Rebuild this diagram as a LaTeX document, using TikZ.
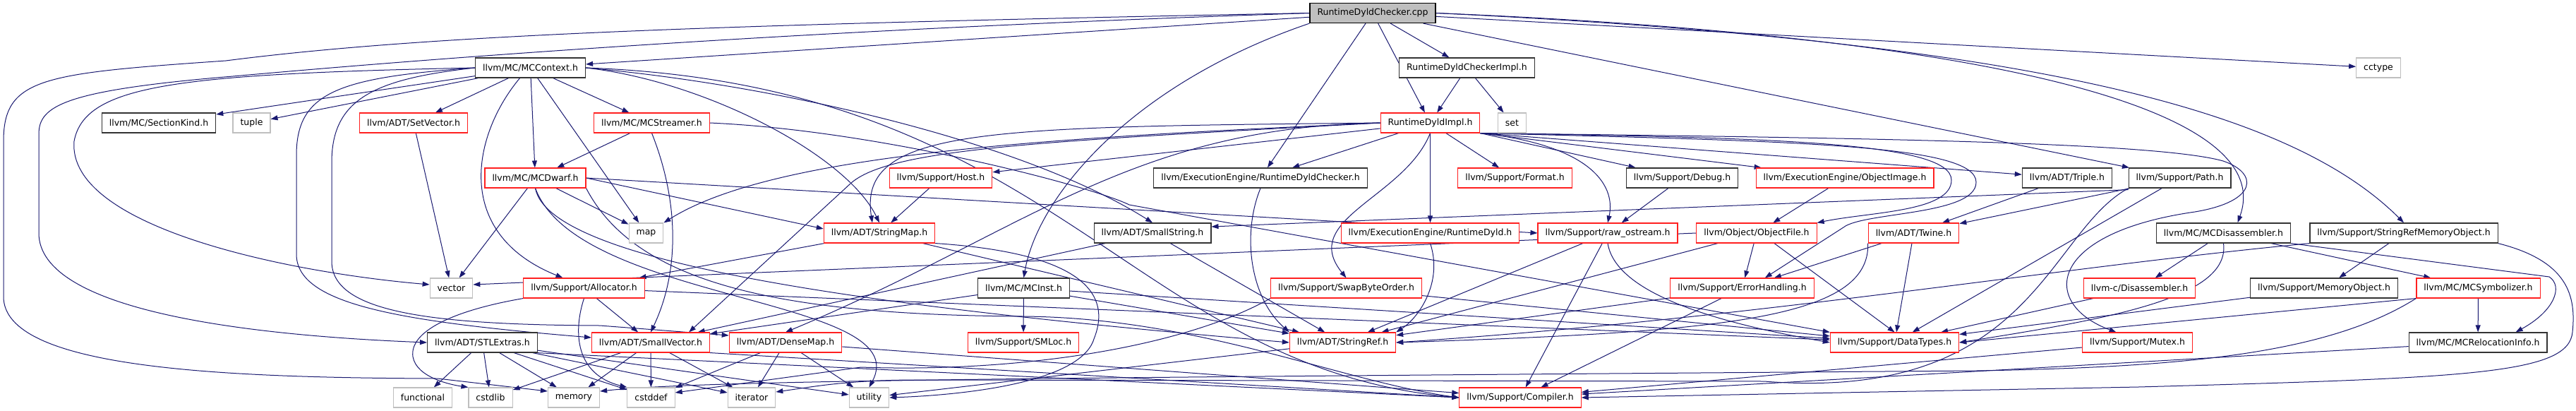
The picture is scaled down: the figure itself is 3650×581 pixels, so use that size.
\documentclass[tikz,border=0pt]{standalone}
\usepackage{fontspec}
\setmainfont{DejaVu Sans}
\usetikzlibrary{arrows.meta}
\pgfdeclarelayer{edges}
\pgfsetlayers{edges,main}
\definecolor{inclblue}{HTML}{191970}
\definecolor{truncred}{HTML}{FF2020}
\definecolor{sysgrey}{HTML}{BFBFBF}
\tikzset{
  % Include graph boxes
  hdrbox/.style   = { draw, fill=white, text=black, font=\fontsize{12.5}{15}\selectfont,
                      minimum height=28pt, inner xsep=10.5pt, inner ysep=2pt },
  rootfile/.style = { hdrbox, fill=sysgrey, draw=black, line width=1.3pt },
  inchdr/.style   = { hdrbox, draw=black!80, line width=1.3pt },
  trunchdr/.style = { hdrbox, draw=truncred, line width=1.1pt },
  syshdr/.style   = { hdrbox, draw=sysgrey, line width=1.1pt },
  % Include edges
  incl/.style     = { inclblue, line width=1pt, -{Triangle[length=10pt,width=7pt]} }
}

\begin{document}
\begin{tikzpicture}[x=1pt, y=-1pt]
  \useasboundingbox (0,0) rectangle (3650,581);

  % --- ranks 0-2 ---------------------------------------------------
  \node[rootfile] (cpp)      at (1945,18.5) {RuntimeDyldChecker.cpp};
  \node[inchdr]   (mcctx)    at (751.5,96)  {llvm/MC/MCContext.h};
  \node[inchdr]   (chkimpl)  at (2078.5,96) {RuntimeDyldCheckerImpl.h};
  \node[syshdr]   (cctype)   at (3370,96)   {cctype};
  \node[inchdr]   (seckind)  at (225,174)   {llvm/MC/SectionKind.h};
  \node[syshdr]   (tuple)    at (356.5,174) {tuple};
  \node[trunchdr] (setvec)   at (586,174)   {llvm/ADT/SetVector.h};
  \node[trunchdr] (mcstream) at (923.5,174) {llvm/MC/MCStreamer.h};
  \node[trunchdr] (dyldimpl) at (2026.5,174) {RuntimeDyldImpl.h};
  \node[syshdr]   (set)      at (2142.5,174) {set};

  % --- rank 3 ------------------------------------------------------
  \node[trunchdr] (mcdwarf)  at (758.5,252)  {llvm/MC/MCDwarf.h};
  \node[trunchdr] (host)     at (1333,252)   {llvm/Support/Host.h};
  \node[inchdr]   (dyldchk)  at (1786,252)   {llvm/ExecutionEngine/RuntimeDyldChecker.h};
  \node[trunchdr] (format)   at (2146.5,252) {llvm/Support/Format.h};
  \node[inchdr]   (debug)    at (2383.5,252) {llvm/Support/Debug.h};
  \node[trunchdr] (objimg)   at (2614,252)   {llvm/ExecutionEngine/ObjectImage.h};
  \node[inchdr]   (triple)   at (2929,252)   {llvm/ADT/Triple.h};
  \node[inchdr]   (path)     at (3088.5,252) {llvm/Support/Path.h};

  % --- rank 4 ------------------------------------------------------
  \node[syshdr]   (map)      at (915.5,330)  {map};
  \node[trunchdr] (strmap)   at (1246,330)   {llvm/ADT/StringMap.h};
  \node[inchdr]   (smallstr) at (1633,330)   {llvm/ADT/SmallString.h};
  \node[trunchdr] (dyld)     at (2026.5,330) {llvm/ExecutionEngine/RuntimeDyld.h};
  \node[trunchdr] (rawos)    at (2278,330)   {llvm/Support/raw\_ostream.h};
  \node[trunchdr] (objfile)  at (2489,330)   {llvm/Object/ObjectFile.h};
  \node[trunchdr] (twine)    at (2711.5,330) {llvm/ADT/Twine.h};
  \node[inchdr]   (mcdisasm) at (3150.5,330) {llvm/MC/MCDisassembler.h};
  \node[inchdr]   (srmo)     at (3406,330)   {llvm/Support/StringRefMemoryObject.h};

  % --- rank 5 ------------------------------------------------------
  \node[syshdr]   (vector)   at (639.5,408)  {vector};
  \node[trunchdr] (alloc)    at (827.5,408)  {llvm/Support/Allocator.h};
  \node[inchdr]   (mcinst)   at (1450.5,408) {llvm/MC/MCInst.h};
  \node[trunchdr] (swap)     at (1907.5,408) {llvm/Support/SwapByteOrder.h};
  \node[trunchdr] (errh)     at (2468.5,408) {llvm/Support/ErrorHandling.h};
  \node[trunchdr] (cdisasm)  at (3031.5,408) {llvm-c/Disassembler.h};
  \node[inchdr]   (memobj)   at (3293,408)   {llvm/Support/MemoryObject.h};
  \node[trunchdr] (symb)     at (3511.5,408) {llvm/MC/MCSymbolizer.h};

  % --- rank 6 ------------------------------------------------------
  \node[inchdr]   (stlext)   at (683.5,485)  {llvm/ADT/STLExtras.h};
  \node[trunchdr] (smallvec) at (922,485)    {llvm/ADT/SmallVector.h};
  \node[trunchdr] (densemap) at (1113,485)   {llvm/ADT/DenseMap.h};
  \node[trunchdr] (smloc)    at (1450,485)   {llvm/Support/SMLoc.h};
  \node[trunchdr] (strref)   at (1902.5,485) {llvm/ADT/StringRef.h};
  \node[trunchdr] (dtypes)   at (2684.5,485) {llvm/Support/DataTypes.h};
  \node[trunchdr] (mutex)    at (3028.5,485) {llvm/Support/Mutex.h};
  \node[inchdr]   (relinfo)  at (3511,485)   {llvm/MC/MCRelocationInfo.h};

  % --- rank 7 ------------------------------------------------------
  \node[syshdr]   (functional) at (599,563)   {functional};
  \node[syshdr]   (cstdlib)    at (695,563)   {cstdlib};
  \node[syshdr]   (memory)     at (813,563)   {memory};
  \node[syshdr]   (cstddef)    at (922.5,563) {cstddef};
  \node[syshdr]   (iterator)   at (1065,563)  {iterator};
  \node[syshdr]   (utility)    at (1231.5,563) {utility};
  \node[trunchdr] (compiler)   at (2154,563)  {llvm/Support/Compiler.h};

  \begin{pgfonlayer}{edges}
  % --- direct includes ---------------------------------------------
  \foreach \src/\dst in {cpp/mcctx, cpp/chkimpl, cpp/dyldimpl, cpp/dyldchk, cpp/cctype, cpp/path,
      chkimpl/dyldimpl, chkimpl/set,
      mcctx/seckind, mcctx/tuple, mcctx/setvec, mcctx/mcstream, mcctx/mcdwarf, mcctx/map,
      setvec/vector, mcstream/mcdwarf, mcdwarf/map, mcdwarf/vector,
      host/strmap, dyldimpl/dyldchk, dyldimpl/host, dyldimpl/format, dyldimpl/dyld,
      debug/rawos, objimg/objfile, triple/twine, path/twine, path/dtypes,
      strmap/alloc, strmap/strref, smallstr/smallvec, smallstr/strref, rawos/strref, rawos/compiler,
      objfile/errh, objfile/strref, twine/errh, twine/dtypes,
      mcdisasm/cdisasm, mcdisasm/symb, srmo/memobj,
      alloc/smallvec, alloc/dtypes, mcinst/smloc, mcinst/smallvec, mcinst/strref, mcinst/dtypes,
      swap/dtypes, errh/strref, errh/compiler, cdisasm/dtypes, memobj/dtypes, symb/relinfo,
      stlext/functional, stlext/cstdlib, stlext/memory, stlext/cstddef, stlext/iterator, stlext/utility,
      smallvec/cstdlib, smallvec/memory, smallvec/cstddef, smallvec/iterator,
      densemap/cstddef, densemap/iterator, densemap/utility, densemap/compiler,
      strref/utility, mutex/compiler, relinfo/compiler}
    \draw[incl] (\src) -- (\dst);

  \draw[incl] (dyldimpl.south east) -- (debug);
  \draw[incl] (dyldimpl.south east) -- (objimg);
  \draw[incl] (dyldimpl.south east) -- (triple);
  \draw[incl] (mcdwarf.east) -- ([yshift=6pt]strmap.west);
  \draw[incl] (mcdwarf.east) -- (rawos.west);
  \draw[incl] ([yshift=-2pt]path.south west) -- ([yshift=9pt]smallstr.east);
  \draw[incl] (objfile.west) -- ([yshift=5pt]vector.east);
  \draw[incl] ([xshift=25pt]objfile.south) -- (dtypes.north);
  \draw[incl] (symb.south west) -- (dtypes.east);
  \draw[incl] (smallvec.south east) -- (compiler.west);
  \draw[incl] (stlext.south east) -- (compiler.west);

  % --- long routes round the left side -----------------------------
  \draw[incl] (cpp.west) .. controls (1000,35) and (600,50) .. (320,86)
    .. controls (60,104) and (5,110) .. (5,200) -- (5,420)
    .. controls (5,520) and (300,535) .. (620,536) -- ([yshift=9pt]memory.west);
  \draw[incl] (cpp.west) .. controls (1200,40) and (700,75) .. (330,108)
    .. controls (90,128) and (55,150) .. (55,190) -- (55,330)
    .. controls (55,440) and (350,475) .. (stlext.west);
  \draw[incl] (mcctx.west) .. controls (250,105) and (120,120) .. (105,200)
    .. controls (95,320) and (400,385) .. ([yshift=5pt]vector.west);
  \draw[incl] (mcctx.west) .. controls (480,110) and (420,130) .. (420,220) -- (420,360)
    .. controls (420,430) and (560,455) .. ([yshift=7pt]smallvec.west);
  \draw[incl] (mcctx.west) .. controls (530,112) and (470,140) .. (470,230) -- (470,370)
    .. controls (470,440) and (600,460) .. (850,461) -- ([yshift=10pt]densemap.west);

  % --- curved includes in the middle -------------------------------
  \draw[incl] ([xshift=-15pt]mcctx.south) .. controls (670,190) and (640,330) .. ([xshift=-30pt]alloc.north);
  \draw[incl] (mcctx.east) .. controls (1000,115) and (1200,220) .. (strmap.north);
  \draw[incl] (mcctx.east) .. controls (1100,120) and (1450,200) .. (smallstr.north);
  \draw[incl] (mcctx.east) .. controls (1500,120) and (1600,520) .. (compiler.west);
  \draw[incl] (cpp.south west) .. controls (1600,120) and (1470,280) .. (mcinst.north);
  \draw[incl] (mcstream.south) .. controls (960,280) and (965,380) .. (smallvec.north);
  \draw[incl] (mcstream.east) .. controls (1250,185) and (1550,265) .. (1600,290) -- (dtypes.north west);
  \draw[incl] (mcdwarf.south) .. controls (780,380) and (1300,440) .. (strref.west);
  \draw[incl] (mcdwarf.south) .. controls (820,430) and (1300,420) .. (utility.north);
  \draw[incl] (mcdwarf.south east) .. controls (900,400) and (1100,446) .. (1450,448)
    .. controls (1700,450) and (1900,540) .. (compiler.west);
  \draw[incl] (dyldimpl.west) .. controls (1400,180) and (1215,180) .. ([xshift=-10pt]strmap.north);
  \draw[incl] (dyldimpl.west) .. controls (1500,195) and (1100,215) .. (map.north east);
  \draw[incl] (dyldimpl.west) .. controls (1480,200) and (1260,210) .. (1205,260)
    -- ([xshift=-30pt]smallvec.north east);
  \draw[incl] (dyldimpl.west) .. controls (1600,180) and (1450,330) .. (densemap.north);
  \draw[incl] (dyldimpl.south east) .. controls (2250,205) and (2290,260) .. (rawos.north);
  \draw[incl] (dyldimpl.south) .. controls (1990,280) and (1840,310) .. (swap.north);
  \draw[incl] (dyldchk.south) .. controls (1760,330) and (1770,420) .. (strref.north west);
  \draw[incl] (dyld.south) .. controls (2045,400) and (2010,450) .. (strref.north east);
  \draw[incl] (strmap.south east) .. controls (1560,360) and (1570,430) .. (1550,480)
    .. controls (1530,545) and (1350,560) .. (utility.east);
  \draw[incl] (alloc.south west) .. controls (640,440) and (580,470) .. (585,505)
    .. controls (590,535) and (640,545) .. (cstdlib.north west);
  \draw[incl] (alloc.south) .. controls (812,470) and (815,530) .. (cstddef.north west);
  \draw[incl] (swap.south west) .. controls (1680,490) and (1450,528) .. (1220,520)
    -- ([yshift=7pt]cstddef.east);
  \draw[incl] (rawos.south) .. controls (2290,420) and (2450,460) .. (dtypes.west);
  \draw[incl] (twine.south west) .. controls (2650,450) and (2450,470) .. (strref.east);

  % --- routes round the right side ---------------------------------
  \draw[incl] (dyldimpl.south east) .. controls (2500,195) and (2765,200) .. (2765,255)
    .. controls (2765,300) and (2650,300) .. (objfile.north east);
  \draw[incl] (dyldimpl.south east) .. controls (2550,200) and (2800,205) .. (2800,258)
    .. controls (2800,305) and (2640,300) .. (2612,322) -- ([xshift=-70pt]errh.north east);
  \draw[incl] (dyldimpl.south east) .. controls (2600,195) and (3050,200) .. (3150,228)
    .. controls (3200,245) and (3200,285) .. (3110,300)
    .. controls (2900,330) and (2890,430) .. ([xshift=-30pt]mutex.north);
  \draw[incl] (cpp.east) .. controls (2800,50) and (3230,150) .. ([xshift=20pt]mcdisasm.north);
  \draw[incl] (cpp.east) .. controls (2900,60) and (3250,160) .. (srmo.north);
  \draw[incl] (path.south west) .. controls (2900,330) and (2880,570) .. (2500,540) -- (1300,538)
    .. controls (1200,538) and (1150,548) .. ([yshift=8pt]iterator.east);
  \draw[incl] (mcdisasm.south east) -- (3612,392)
    .. controls (3632,405) and (3620,440) .. ([xshift=-45pt]relinfo.north east);
  \draw[incl] (mcdisasm.south) .. controls (3160,420) and (3000,450) .. (dtypes.east);
  \draw[incl] (srmo.south west) .. controls (2900,380) and (2500,450) .. (strref.east);
  \draw[incl] (srmo.south east) .. controls (3640,370) and (3650,420) .. (3645,470)
    .. controls (3640,530) and (3500,535) .. (3030,548) -- (compiler.east);
  \draw[incl] (symb.south west) .. controls (3300,500) and (3100,520) .. (2800,525)
    .. controls (1500,535) and (1000,538) .. ([yshift=9pt]memory.east);
  \end{pgfonlayer}
\end{tikzpicture}
\end{document}
